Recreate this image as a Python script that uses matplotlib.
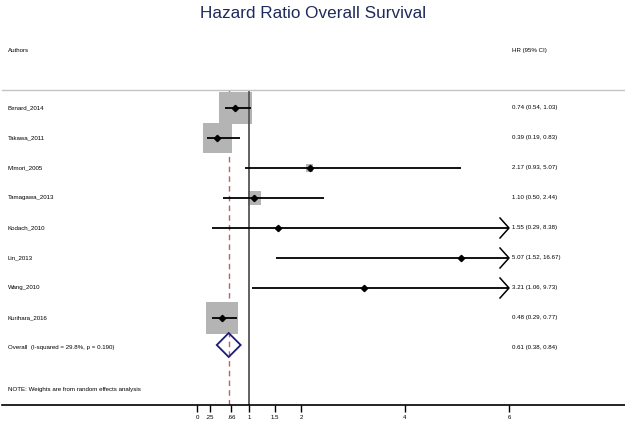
import matplotlib
matplotlib.use("Agg")
import matplotlib.pyplot as plt
from matplotlib.patches import Rectangle, Polygon
import numpy as np

plt.rcParams['font.family'] = ['Liberation Sans', 'DejaVu Sans']

authors = ["Benard_2014", "Takawa_2011", "Mimori_2005", "Tamagawa_2013",
           "Kodach_2010", "Lin_2013", "Wang_2010", "Kurihara_2016"]
hr = [0.74, 0.39, 2.17, 1.10, 1.55, 5.07, 3.21, 0.48]
lo = [0.54, 0.19, 0.93, 0.50, 0.29, 1.52, 1.06, 0.29]
hi = [1.03, 0.83, 5.07, 2.44, 8.38, 16.67, 9.73, 0.77]
weights = [32.8, 26.9, 1.6, 5.4, 0.3, 0.1, 0.1, 32.8]
ci_labels = ["0.74 (0.54, 1.03)", "0.39 (0.19, 0.83)", "2.17 (0.93, 5.07)",
             "1.10 (0.50, 2.44)", "1.55 (0.29, 8.38)", "5.07 (1.52, 16.67)",
             "3.21 (1.06, 9.73)", "0.48 (0.29, 0.77)"]
overall = 0.61
overall_lo = 0.38
overall_hi = 0.84
overall_label = "Overall  (I-squared = 29.8%, p = 0.190)"
overall_ci = "0.61 (0.38, 0.84)"
xticks = [0, 0.25, 0.66, 1, 1.5, 2, 4, 6]
xticklabels = ["0", ".25", ".66", "1", "1.5", "2", "4", "6"]
xmax_plot = 6

W, H = 625, 421
fig = plt.figure(figsize=(W / 100, H / 100), dpi=100)
px_per_unit = 52.0
x_zero_px = 197.0
ax_left_px, ax_right_px = 2, 625
ax_top_px, ax_bot_px = 90, 405
ax = fig.add_axes([ax_left_px / W, (H - ax_bot_px) / H,
                   (ax_right_px - ax_left_px) / W, (ax_bot_px - ax_top_px) / H])
ax.set_xlim((ax_left_px - x_zero_px) / px_per_unit, (ax_right_px - x_zero_px) / px_per_unit)
ax.set_ylim(ax_bot_px, ax_top_px)

row_y = [108 + 30 * i for i in range(len(authors))]
overall_y = 345
fs = 4.4

for s in ["left", "right"]:
    ax.spines[s].set_visible(False)
ax.spines["top"].set_color("#c4c4c4")
ax.spines["top"].set_linewidth(1.0)
ax.spines["bottom"].set_color("black")
ax.spines["bottom"].set_linewidth(1.2)
ax.set_yticks([])
ax.set_xticks(xticks)
ax.set_xticklabels(xticklabels, fontsize=fs)
ax.tick_params(axis="x", direction="out", length=5, width=1, pad=2)

# reference lines
ax.axvline(1, color="#555555", lw=1.3, zorder=2.5)
ax.axvline(overall, color="#c0605f", lw=1.0, ls=(0, (4, 3)), zorder=1)

text_x_left = (8 - x_zero_px) / px_per_unit
text_x_right = (512 - x_zero_px) / px_per_unit

for i, name in enumerate(authors):
    y = row_y[i]
    side = np.sqrt(weights[i]) * 5.6  # px
    wv = side / px_per_unit
    ax.add_patch(Rectangle((hr[i] - wv / 2, y - side / 2), wv, side,
                           facecolor="#b4b4b4", edgecolor="none", zorder=2))
    right = min(hi[i], xmax_plot)
    ax.plot([lo[i], right], [y, y], color="black", lw=1.3, zorder=3,
            solid_capstyle="butt")
    if hi[i] > xmax_plot:
        a = 9 / px_per_unit
        ax.plot([xmax_plot - a, xmax_plot, xmax_plot - a], [y - 10, y, y + 10],
                color="black", lw=1.1, zorder=3)
    ax.plot([hr[i]], [y], marker="D", color="black", ms=3.2, zorder=5)
    ax.text(text_x_left, y, name, fontsize=fs, va="center", ha="left")
    ax.text(text_x_right, y, ci_labels[i], fontsize=fs, va="center", ha="left")

dh = 12
ax.add_patch(Polygon([[overall_lo, overall_y], [overall, overall_y - dh],
                      [overall_hi, overall_y], [overall, overall_y + dh]],
                     closed=True, facecolor="none", edgecolor="#1c1c7a", lw=1.3, zorder=6))
ax.text(text_x_left, 348, overall_label, fontsize=fs, va="center", ha="left")
ax.text(text_x_right, 348, overall_ci, fontsize=fs, va="center", ha="left")
ax.text(text_x_left, 390, "NOTE: Weights are from random effects analysis",
        fontsize=fs, va="center", ha="left")

ax.text(text_x_left, 51, "Authors", fontsize=fs, va="center", ha="left", clip_on=False)
ax.text(text_x_right, 51, "HR (95% CI)", fontsize=fs, va="center", ha="left", clip_on=False)

fig.text(313 / W, 1 - 13 / H, "Hazard Ratio Overall Survival", fontsize=12.3,
         color="#1f2a5c", ha="center", va="center")

fig.savefig("out.png", dpi=100)
